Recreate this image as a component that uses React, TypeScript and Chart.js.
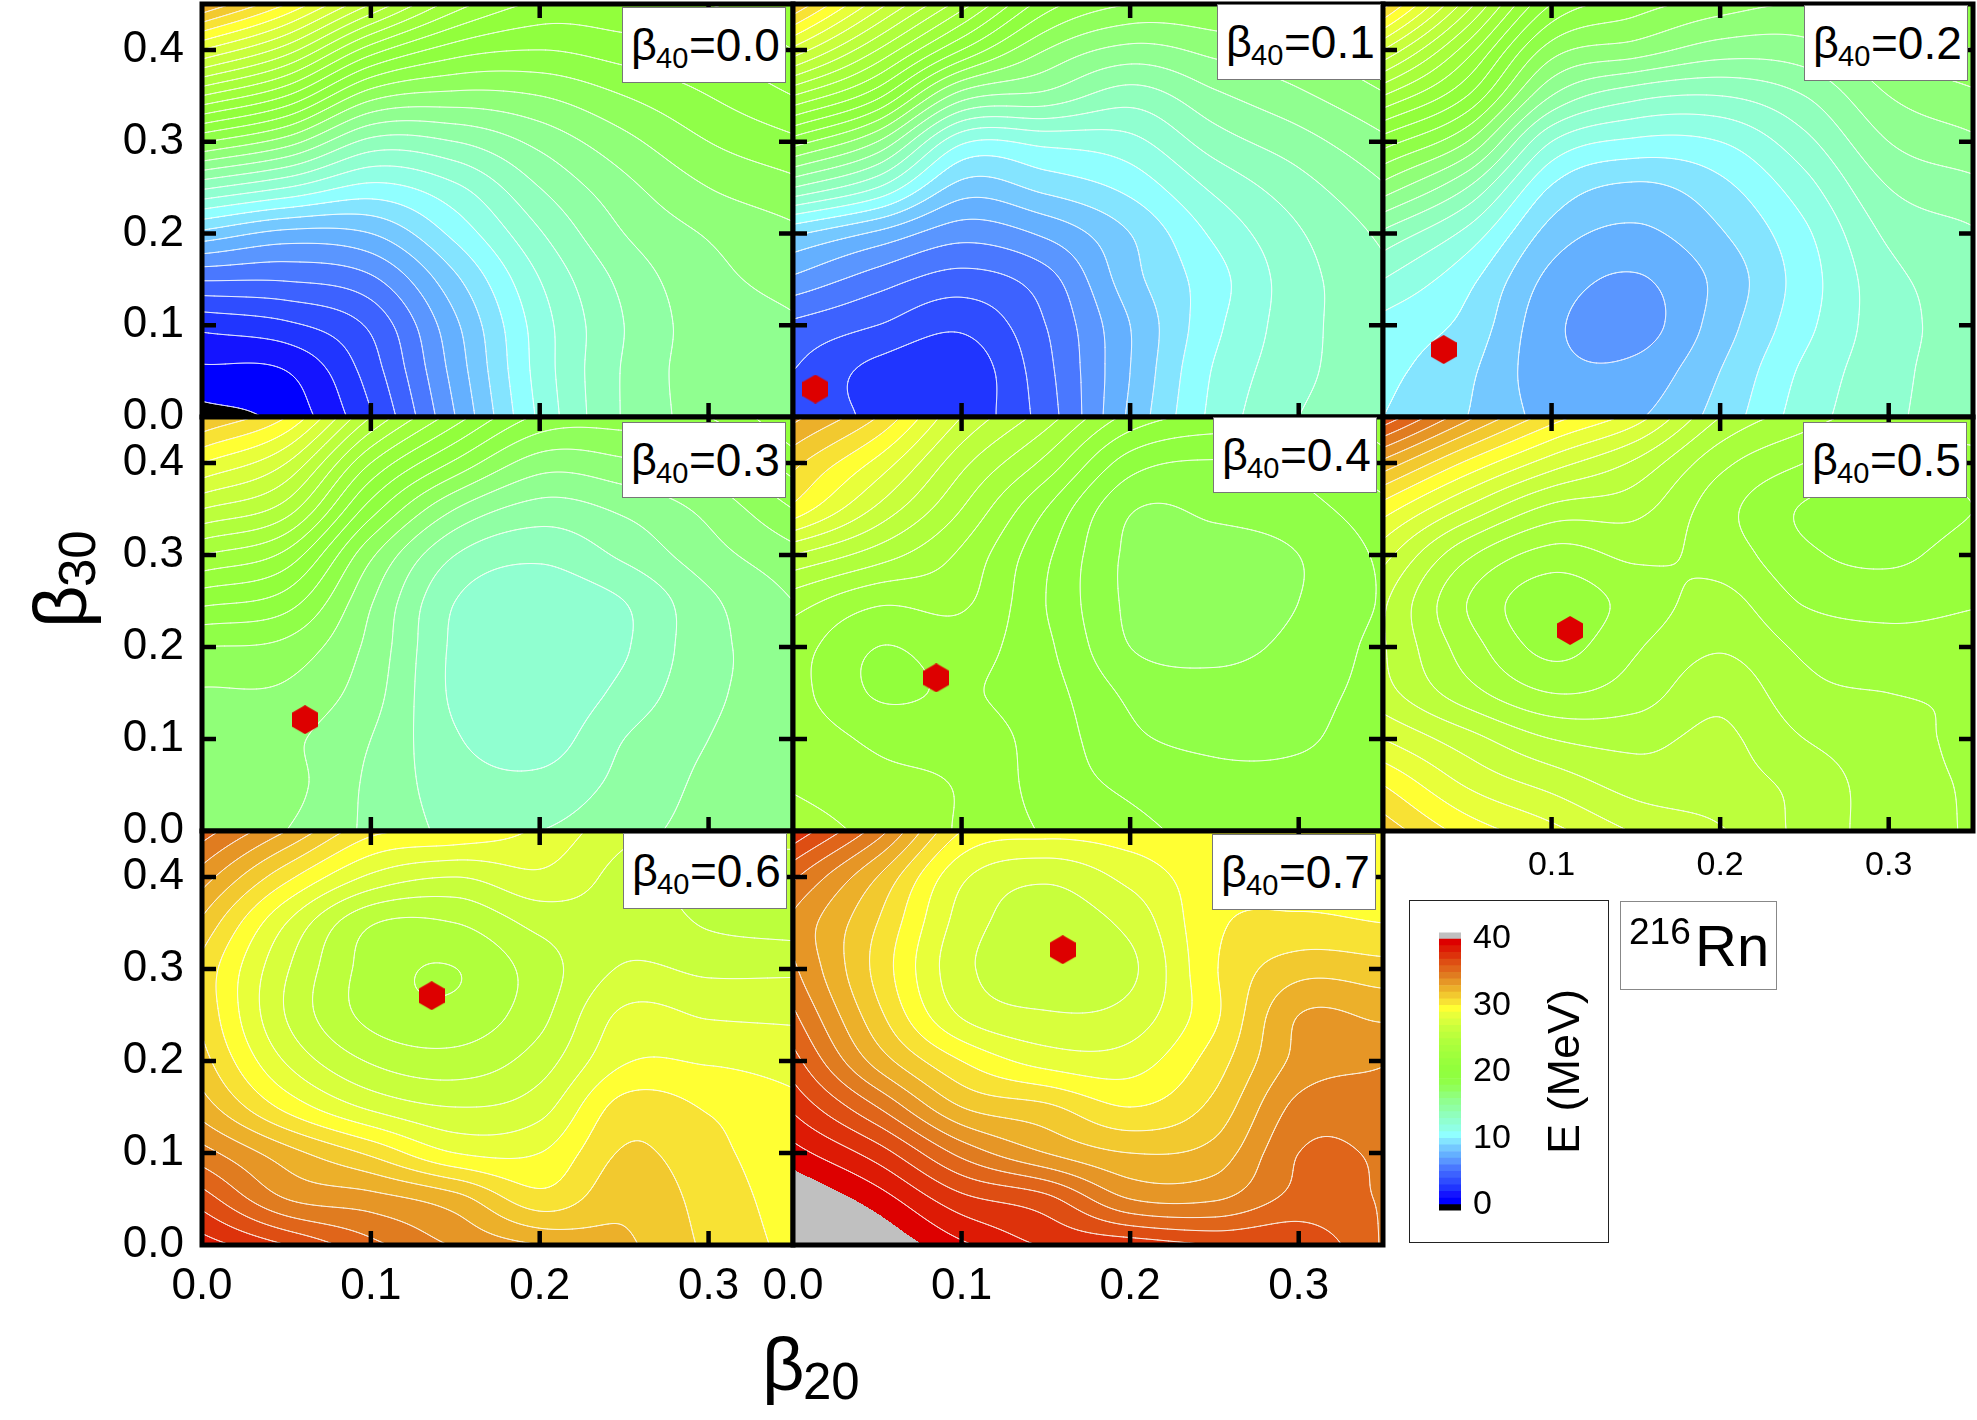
import { useEffect, useRef } from "react";
import { Chart, registerables } from "chart.js";

Chart.register(...registerables);

// Grid nodes of every map (columns are beta20, each column runs up in beta30)
const beta20Nodes = [0, 0.05, 0.1, 0.15, 0.2, 0.25, 0.3, 0.35];
const beta30Nodes = [0, 0.05, 0.1, 0.15, 0.2, 0.25, 0.3, 0.35, 0.4, 0.45];
const beta20Ticks = [0, 0.1, 0.2, 0.3];
const beta30Ticks = [0, 0.1, 0.2, 0.3, 0.4];
const colorbarTicks = [0, 10, 20, 30, 40];

const energyB00 = [
  [-0.4, 0.8, 2.3, 5.1, 8.7, 13.2, 18.1, 23, 28, 33],
  [0.35, 1, 2.8, 5.1, 7.7, 12, 16.5, 21, 25.5, 30],
  [2.9, 3.5, 4.2, 5.8, 8, 10.7, 13.7, 17.4, 21.5, 26],
  [7, 7.4, 7.8, 8.8, 10.3, 11.8, 14, 16.7, 19.5, 22.5],
  [11.2, 11.4, 11.5, 12, 12.9, 14, 15.3, 17, 19, 20.8],
  [14.1, 14.1, 14, 14.3, 15, 15.7, 16.7, 18, 19.5, 20.8],
  [15.4, 15.5, 15.5, 15.7, 16.1, 17, 18, 19, 20, 21],
  [15.6, 15.7, 15.9, 16.3, 16.8, 17.7, 18.8, 20, 21, 21.8],
];
const energyB01 = [
  [3.5, 4, 4.8, 6.8, 9.2, 14, 18.5, 23, 27.7, 32],
  [2.85, 2.7, 4, 5.5, 7.8, 12, 16, 20.3, 24, 27.5],
  [2.4, 2.3, 3.2, 4.6, 6.4, 8.6, 11.2, 15.5, 20, 23.5],
  [4.5, 4.7, 5, 5.6, 7.2, 9.3, 11.3, 14.7, 17, 19.5],
  [8.2, 8, 8, 8.6, 9, 10.3, 11.7, 13.5, 15.7, 18],
  [11.3, 11.1, 10.75, 10.6, 11.2, 12.2, 13.5, 14.8, 16.3, 18],
  [13, 12.7, 12.6, 12.6, 12.9, 13.6, 14.6, 15.8, 17, 18.7],
  [13.7, 13.8, 13.8, 13.8, 14.2, 14.9, 15.8, 16.9, 18, 19.5],
];
const energyB02 = [
  [10, 10.3, 10.7, 12, 13.8, 16.6, 19.5, 23, 27, 31.5],
  [9, 9.2, 9.7, 10.3, 11.7, 14, 17, 20, 22.5, 25.5],
  [7.7, 7.35, 7.25, 7.7, 8.6, 9.9, 12, 15, 17.5, 20],
  [7.9, 7.3, 6.55, 6.9, 7.8, 8.8, 10.8, 13.3, 16.5, 18.5],
  [9.4, 9, 8.5, 8.3, 8.9, 9.7, 11, 13, 15.5, 17.5],
  [11.5, 11.2, 10.7, 10.5, 10.8, 11.6, 12.7, 14, 15.6, 17],
  [12.8, 12.7, 12.6, 12.7, 13.2, 14, 15, 16, 17, 18],
  [13.5, 13.5, 13.4, 13.5, 13.9, 14.7, 15.8, 16.8, 18, 19],
];
const energyB03 = [
  [16.5, 16.4, 16.4, 16.9, 18, 20.3, 23, 26, 29, 32],
  [16, 16.3, 16.2, 16.8, 17.7, 19.5, 21.7, 24.5, 27, 30],
  [14.8, 14.8, 15, 15.4, 15.7, 16.1, 17.2, 19.5, 22, 25],
  [13.8, 13.5, 13.1, 12.8, 12.8, 13, 14, 16, 18.8, 21.5],
  [14, 13.3, 12.5, 12.2, 12.2, 12.4, 13.2, 14.6, 16.5, 18.8],
  [14.7, 14.3, 14, 13.3, 12.9, 13, 14.2, 15.2, 16.8, 18.5],
  [15.3, 15.2, 15, 14.8, 14.7, 14.8, 15.6, 16.3, 17.5, 19],
  [15.6, 15.6, 15.5, 15.4, 15.5, 16, 16.7, 18, 19.5, 21],
];
const energyB04 = [
  [23.6, 22.9, 22.7, 22.4, 22.5, 23.5, 26, 29.7, 31.3, 33.3],
  [22.7, 22.3, 21.8, 20.9, 21, 22.2, 24.5, 26.8, 28.7, 31],
  [21.9, 21.9, 21.5, 21.1, 21.4, 22.2, 22.8, 24, 25.3, 27],
  [20.9, 20.6, 20.6, 20.4, 20.2, 20, 20.2, 21, 22.7, 24.5],
  [20.3, 19.8, 19.2, 18.8, 18, 17.8, 17.8, 18.1, 19.5, 21.7],
  [19.6, 19.3, 18.8, 18.4, 17.7, 17.4, 17.6, 18.2, 18.9, 20.7],
  [19.2, 19.2, 18.9, 18.7, 18.3, 18, 18, 18.6, 19.4, 21],
  [19.4, 19.4, 19.4, 19.3, 19.3, 19.1, 19.2, 19.7, 20.7, 21.5],
];
const energyB05 = [
  [31.6, 30, 28, 26.4, 26.1, 26.2, 27.4, 29.5, 32.7, 36.8],
  [29.6, 27.9, 26.4, 24.4, 23.5, 23, 24.2, 26.8, 29.8, 33.3],
  [28.3, 26.7, 25, 23, 21.7, 21.4, 22.6, 24.7, 27.5, 30.5],
  [26.9, 25.6, 24.7, 23.5, 22.9, 22.4, 23.2, 24.3, 25.8, 28.5],
  [26.1, 25.4, 25.2, 24.7, 23.9, 23.3, 22.6, 22.4, 23.3, 25],
  [24.7, 24.7, 24, 23.3, 22.8, 21.9, 21.2, 20.9, 22, 23.5],
  [23.5, 23.4, 23.3, 23, 22.4, 21.6, 20.8, 20.5, 21.2, 22.5],
  [22.9, 22.9, 22.8, 22.9, 22.5, 21.9, 21.5, 21, 21.5, 23],
];
const energyB06 = [
  [38.5, 36.5, 34.4, 32.5, 31.4, 30.8, 30.7, 31.8, 33.5, 35.5],
  [37, 34, 32.4, 29.7, 27.9, 26.95, 27.1, 28, 30.3, 33],
  [35.3, 33.4, 30.8, 27.8, 25.9, 24.7, 24.6, 25.1, 27.8, 30.3],
  [33.9, 32.4, 29, 27, 25.4, 24.3, 23.99, 25, 27, 29.9],
  [33, 30.4, 29, 27.6, 26.5, 25.7, 25.5, 26.3, 27.8, 28.8],
  [32.2, 31.7, 31.1, 30.4, 28.9, 28.2, 27.1, 26.6, 26.6, 27.3],
  [30.8, 30.6, 30.3, 29.9, 28.9, 27.9, 26.8, 25.9, 25.7, 26.3],
  [29.7, 29.5, 29.3, 29.2, 28.6, 27.8, 26.8, 25.6, 25.4, 26.5],
];
const energyB07 = [
  [42.3, 41.1, 39.4, 37.8, 36.4, 35.2, 34.2, 33.8, 35.2, 37.8],
  [41, 39.5, 37.5, 35, 32.6, 31.3, 30.7, 31, 32, 34.5],
  [39.2, 37.3, 34.7, 32, 30, 27.9, 27.3, 27.6, 28.2, 30],
  [37.9, 36.3, 33, 31.2, 28.6, 27.1, 26.5, 26.5, 27.2, 29.4],
  [37.6, 34, 32, 30, 28.5, 27.4, 26.8, 27.3, 28.3, 29.6],
  [37, 33.9, 32.4, 31.3, 30.5, 29.8, 29.9, 29.8, 29.6, 29.9],
  [36.9, 35.3, 35, 34.3, 33.3, 33, 31.6, 30.2, 29.7, 29.7],
  [34.9, 34.95, 34.9, 34.5, 33.9, 32.8, 31.4, 30, 29.4, 29],
];

const energyMaps = [energyB00, energyB01, energyB02, energyB03, energyB04, energyB05, energyB06, energyB07];
const beta40Labels = ["0.0", "0.1", "0.2", "0.3", "0.4", "0.5", "0.6", "0.7"];

// Ground state of each map, the first map has none on show
const minimumBeta20 = [null, 0.0133, 0.036, 0.061, 0.085, 0.111, 0.136, 0.16];
const minimumBeta30 = [null, 0.0305, 0.0735, 0.121, 0.1665, 0.218, 0.271, 0.321];

// One colour per 1 MeV band, starting at 0 MeV
const bandColors = [
  "#0000FF", "#1414FF", "#2035FF", "#2F4DFF", "#3D62FF", "#4A78FF", "#5A96FF", "#64B0FF", "#74C8FF", "#84E4FF",
  "#90FFFF", "#90FFE4", "#90FFD0", "#90FFBC", "#90FFA4", "#90FF90", "#90FF78", "#90FF5C", "#90FF48", "#90FF40",
  "#92FF3C", "#98FF3C", "#A0FF3C", "#A8FF3C", "#B0FF3C", "#BCFF3C", "#C8FF3C", "#D8FF3C", "#E8FF3A", "#FFFF33",
  "#F8E234", "#F2C92F", "#ECB02A", "#E69626", "#E07C20", "#E0651A", "#DE4E13", "#DD320B", "#DD1A05", "#DD0000",
];
const belowColor = "#000000";
const aboveColor = "#C0C0C0";

// Page layout
const colEdges = [202, 793, 1383, 1973];
const rowEdges = [4, 417, 831, 1245];
const labelBoxes = [
  [622, 7], [1217, 4], [1804, 5], [622, 422], [1213, 417], [1803, 422], [623, 833], [1212, 834],
];
const marginLeft = 140;
const marginRight = 10;
const marginTop = 80;
const marginBottom = 80;
const fontFamily = "'Liberation Sans', Arial, sans-serif";

const toRgb = (hex: string) => [
  parseInt(hex.slice(1, 3), 16),
  parseInt(hex.slice(3, 5), 16),
  parseInt(hex.slice(5, 7), 16),
];
const bandRgb = bandColors.map(toRgb);
const belowRgb = toRgb(belowColor);
const aboveRgb = toRgb(aboveColor);

const makeHexagon = () => {
  const c = document.createElement("canvas");
  c.width = 26;
  c.height = 29;
  const g = c.getContext("2d")!;
  g.fillStyle = "#DD0000";
  g.beginPath();
  g.moveTo(13, 0);
  g.lineTo(26, 7.5);
  g.lineTo(26, 21.5);
  g.lineTo(13, 29);
  g.lineTo(0, 21.5);
  g.lineTo(0, 7.5);
  g.closePath();
  g.fill();
  return c;
};

// Catmull-Rom weights, the map is only smoothed for drawing
const cubicWeights = (t: number) => [
  0.5 * (-t + 2 * t * t - t * t * t),
  0.5 * (2 - 5 * t * t + 3 * t * t * t),
  0.5 * (t + 4 * t * t - 3 * t * t * t),
  0.5 * (-t * t + t * t * t),
];

const padGrid = (grid: number[][]) => {
  const nx = grid.length;
  const ny = grid[0].length;
  const at = (i: number, j: number): number => {
    if (i < 0) return 2 * at(0, j) - at(1, j);
    if (i >= nx) return 2 * at(nx - 1, j) - at(nx - 2, j);
    if (j < 0) return 2 * grid[i][0] - grid[i][1];
    if (j >= ny) return 2 * grid[i][ny - 1] - grid[i][ny - 2];
    return grid[i][j];
  };
  return at;
};

// Fills the bands and strokes the contours of one map through the chart's scales
const contourPlugin = (grid: number[][]) => ({
  id: "contour",
  beforeDatasetsDraw(chart: any) {
    const { ctx, chartArea: a, scales } = chart;
    const w = Math.round(a.right - a.left);
    const h = Math.round(a.bottom - a.top);
    const at = padGrid(grid);
    const dx = beta20Nodes[1] - beta20Nodes[0];
    const dy = beta30Nodes[1] - beta30Nodes[0];
    const nx = beta20Nodes.length;
    const ny = beta30Nodes.length;
    const z = new Float32Array((w + 1) * (h + 1));
    for (let py = 0; py <= h; py++) {
      const gy = Math.min(scales.y.getValueForPixel(a.top + py) / dy, ny - 1.0001);
      const j = Math.max(0, Math.floor(gy));
      const wy = cubicWeights(gy - j);
      for (let px = 0; px <= w; px++) {
        const gx = Math.min(scales.x.getValueForPixel(a.left + px) / dx, nx - 1.0001);
        const i = Math.max(0, Math.floor(gx));
        const wx = cubicWeights(gx - i);
        let v = 0;
        for (let m = 0; m < 4; m++) {
          for (let n = 0; n < 4; n++) {
            v += wx[m] * wy[n] * at(i + m - 1, j + n - 1);
          }
        }
        z[py * (w + 1) + px] = v;
      }
    }

    const off = document.createElement("canvas");
    off.width = w;
    off.height = h;
    const offCtx = off.getContext("2d")!;
    const img = offCtx.createImageData(w, h);
    for (let py = 0; py < h; py++) {
      for (let px = 0; px < w; px++) {
        const v = z[py * (w + 1) + px];
        const rgb = v < 0 ? belowRgb : v >= 40 ? aboveRgb : bandRgb[Math.floor(v)];
        const o = (py * w + px) * 4;
        img.data[o] = rgb[0];
        img.data[o + 1] = rgb[1];
        img.data[o + 2] = rgb[2];
        img.data[o + 3] = 255;
      }
    }
    offCtx.putImageData(img, 0, 0);
    ctx.drawImage(off, a.left, a.top);

    ctx.save();
    ctx.beginPath();
    ctx.rect(a.left, a.top, w, h);
    ctx.clip();
    ctx.beginPath();
    for (let py = 0; py < h; py++) {
      for (let px = 0; px < w; px++) {
        const k = py * (w + 1) + px;
        const z00 = z[k];
        const z10 = z[k + 1];
        const z01 = z[k + w + 1];
        const z11 = z[k + w + 2];
        const lo = Math.max(0, Math.ceil(Math.min(z00, z10, z01, z11)));
        const hi = Math.min(39, Math.floor(Math.max(z00, z10, z01, z11)));
        for (let level = lo; level <= hi; level++) {
          const pts: number[][] = [];
          if (z00 < level !== z10 < level) pts.push([px + (level - z00) / (z10 - z00), py]);
          if (z10 < level !== z11 < level) pts.push([px + 1, py + (level - z10) / (z11 - z10)]);
          if (z01 < level !== z11 < level) pts.push([px + (level - z01) / (z11 - z01), py + 1]);
          if (z00 < level !== z01 < level) pts.push([px, py + (level - z00) / (z01 - z00)]);
          for (let s = 0; s + 1 < pts.length; s += 2) {
            ctx.moveTo(a.left + pts[s][0], a.top + pts[s][1]);
            ctx.lineTo(a.left + pts[s + 1][0], a.top + pts[s + 1][1]);
          }
        }
      }
    }
    ctx.strokeStyle = "rgba(255,255,255,0.8)";
    ctx.lineWidth = 0.9;
    ctx.lineCap = "round";
    ctx.stroke();
    ctx.restore();
  },
  // frame and inward ticks on all four sides
  afterDatasetsDraw(chart: any) {
    const { ctx, chartArea: a, scales } = chart;
    const tick = 14;
    ctx.save();
    ctx.strokeStyle = "#000";
    ctx.lineWidth = 4.5;
    ctx.beginPath();
    beta20Ticks.slice(1).forEach((t) => {
      const x = scales.x.getPixelForValue(t);
      ctx.moveTo(x, a.bottom);
      ctx.lineTo(x, a.bottom - tick);
      ctx.moveTo(x, a.top);
      ctx.lineTo(x, a.top + tick);
    });
    beta30Ticks.slice(1).forEach((t) => {
      const y = scales.y.getPixelForValue(t);
      ctx.moveTo(a.left, y);
      ctx.lineTo(a.left + tick, y);
      ctx.moveTo(a.right, y);
      ctx.lineTo(a.right - tick, y);
    });
    ctx.stroke();
    ctx.lineWidth = 5;
    ctx.strokeRect(a.left, a.top, a.right - a.left, a.bottom - a.top);
    ctx.restore();
  },
});

const Panel = ({ index }: { index: number }) => {
  const ref = useRef<HTMLCanvasElement>(null);
  const col = index % 3;
  const row = Math.floor(index / 3);
  const width = colEdges[col + 1] - colEdges[col];
  const height = rowEdges[row + 1] - rowEdges[row];

  useEffect(() => {
    if (!ref.current) return;
    const mx = minimumBeta20[index];
    const my = minimumBeta30[index];
    const smallLabels = index === 5;
    const showX = row === 2 || smallLabels;
    const chart = new Chart(ref.current, {
      type: "scatter",
      data: {
        datasets: [
          {
            data: mx === null ? [] : [{ x: mx, y: my }],
            pointStyle: makeHexagon(),
            pointRadius: 13,
            clip: false,
          } as any,
        ],
      },
      options: {
        animation: false,
        responsive: false,
        devicePixelRatio: 1,
        layout: { autoPadding: false, padding: { top: marginTop, right: marginRight } },
        plugins: { legend: { display: false }, tooltip: { enabled: false } },
        scales: {
          x: {
            type: "linear",
            min: 0,
            max: 0.35,
            afterBuildTicks: (s: any) => {
              s.ticks = beta20Ticks.map((value) => ({ value }));
            },
            afterFit: (s: any) => {
              s.height = marginBottom;
            },
            grid: { display: false, drawTicks: false },
            border: { display: false },
            ticks: {
              display: showX,
              autoSkip: false,
              maxRotation: 0,
              padding: smallLabels ? 14 : 15,
              color: "#000",
              font: { family: fontFamily, size: smallLabels ? 34 : 44 },
              callback: (v: any) => (smallLabels && v === 0 ? "" : Number(v).toFixed(1)),
            },
          },
          y: {
            type: "linear",
            min: 0,
            max: 0.45,
            afterBuildTicks: (s: any) => {
              s.ticks = beta30Ticks.map((value) => ({ value }));
            },
            afterFit: (s: any) => {
              s.width = marginLeft;
            },
            grid: { display: false, drawTicks: false },
            border: { display: false },
            ticks: {
              display: col === 0,
              autoSkip: false,
              padding: 18,
              color: "#000",
              font: { family: fontFamily, size: 44 },
              callback: (v: any) => Number(v).toFixed(1),
            },
          },
        },
      },
      plugins: [contourPlugin(energyMaps[index])],
    } as any);
    return () => chart.destroy();
  }, []);

  return (
    <canvas
      ref={ref}
      width={width + marginLeft + marginRight}
      height={height + marginTop + marginBottom}
      style={{
        position: "absolute",
        left: colEdges[col] - marginLeft,
        top: rowEdges[row] - marginTop,
      }}
    />
  );
};

const Colorbar = () => {
  const ref = useRef<HTMLCanvasElement>(null);

  useEffect(() => {
    if (!ref.current) return;
    const bands = [
      { data: [[-0.9, 0]], backgroundColor: belowColor },
      ...bandColors.map((c, n) => ({ data: [[n, n + 1]], backgroundColor: c })),
      { data: [[40, 41]], backgroundColor: aboveColor },
    ];
    const chart = new Chart(ref.current, {
      type: "bar",
      data: { labels: ["E"], datasets: bands as any },
      options: {
        animation: false,
        responsive: false,
        devicePixelRatio: 1,
        layout: { autoPadding: false, padding: { left: 10, top: 30, bottom: 30 } },
        datasets: { bar: { barPercentage: 1, categoryPercentage: 1, grouped: false } },
        plugins: { legend: { display: false }, tooltip: { enabled: false } },
        scales: {
          x: { display: false },
          y: {
            position: "right",
            min: -0.9,
            max: 41,
            afterBuildTicks: (s: any) => {
              s.ticks = colorbarTicks.map((value) => ({ value }));
            },
            afterFit: (s: any) => {
              s.width = 68;
            },
            grid: { display: false, drawTicks: false },
            border: { display: false },
            ticks: {
              padding: 12,
              color: "#000",
              font: { family: fontFamily, size: 34 },
            },
          },
        },
      },
    } as any);
    return () => chart.destroy();
  }, []);

  return (
    <canvas ref={ref} width={100} height={343} style={{ position: "absolute", left: 1429, top: 900 }} />
  );
};

const text = (left: number, top: number, size: number, content: string, extra = {}) => (
  <span
    style={{
      position: "absolute",
      left,
      top,
      fontSize: size,
      lineHeight: `${size}px`,
      whiteSpace: "nowrap",
      color: "#000",
      ...extra,
    }}
  >
    {content}
  </span>
);

const LabelBox = ({ index }: { index: number }) => {
  const [left, top] = labelBoxes[index];
  return (
    <div
      style={{
        position: "absolute",
        left,
        top,
        width: 164,
        height: 76,
        background: "#fff",
        border: "1px solid #777",
        boxSizing: "border-box",
      }}
    >
      {text(8, 14, 45, "β")}
      {text(33, 36, 29, "40")}
      {text(66, 14, 46, `=${beta40Labels[index]}`)}
    </div>
  );
};

export default function App() {
  return (
    <div
      style={{
        position: "absolute",
        left: 0,
        top: 0,
        width: 1977,
        height: 1420,
        overflow: "hidden",
        background: "#fff",
        fontFamily,
      }}
    >
      {energyMaps.map((_, i) => (
        <Panel key={i} index={i} />
      ))}
      {energyMaps.map((_, i) => (
        <LabelBox key={i} index={i} />
      ))}

      {/* axis titles */}
      {text(762, 1328, 74, "β")}
      {text(803, 1356, 51, "20")}
      <div
        style={{
          position: "absolute",
          left: 24,
          top: 628,
          transform: "rotate(-90deg)",
          transformOrigin: "0 0",
          width: 110,
          height: 80,
        }}
      >
        {text(0, 0, 74, "β")}
        {text(41, 28, 51, "30")}
      </div>

      {/* colour scale */}
      <div
        style={{
          position: "absolute",
          left: 1409,
          top: 900,
          width: 200,
          height: 343,
          border: "1.5px solid #222",
          boxSizing: "border-box",
        }}
      />
      <Colorbar />
      <div
        style={{
          position: "absolute",
          left: 1541,
          top: 1154,
          transform: "rotate(-90deg)",
          transformOrigin: "0 0",
        }}
      >
        {text(0, 0, 45, "E (MeV)")}
      </div>

      {/* nucleus */}
      <div
        style={{
          position: "absolute",
          left: 1620,
          top: 901,
          width: 157,
          height: 89,
          border: "1px solid #888",
          boxSizing: "border-box",
        }}
      >
        {text(8, 11, 37, "216")}
        {text(74, 15, 58, "Rn")}
      </div>
    </div>
  );
}
